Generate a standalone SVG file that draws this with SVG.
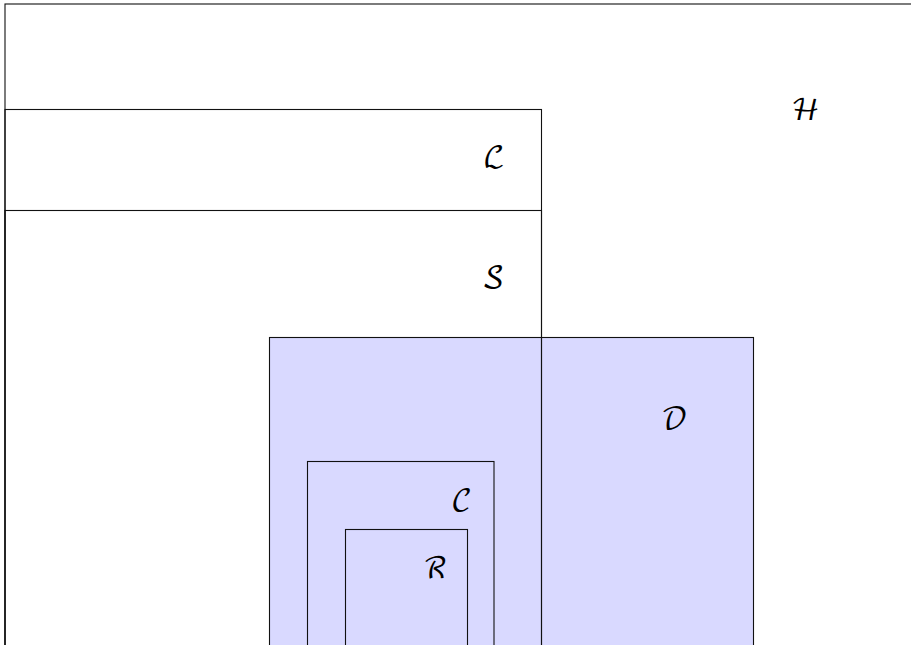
<svg xmlns="http://www.w3.org/2000/svg" width="911" height="645" viewBox="0 0 911 645">
  <style>
    .box { fill: none; stroke: #111; stroke-width: 1.1; }
    .shaded { fill: #d9d9ff; stroke: #111; stroke-width: 1.1; }
    .lbl { font-family: "DejaVu Math TeX Gyre", "DejaVu Serif", "DejaVu Sans", serif; font-size: 29px; fill: #000; }
  </style>
  <rect x="0" y="0" width="911" height="645" fill="#ffffff"/>
  <!-- shaded region drawn first so the outlines of the other sets stay visible -->
  <g id="D">
    <rect class="shaded" x="269.5" y="337.5" width="484" height="340"/>
    <text class="lbl" x="661" y="429">𝒟</text>
  </g>
  <g id="H">
    <rect class="box" x="5" y="4" width="940" height="700"/>
    <text class="lbl" x="791" y="120">ℋ</text>
  </g>
  <g id="L">
    <rect class="box" x="5" y="109.5" width="536.5" height="600"/>
    <text class="lbl" x="483" y="167">ℒ</text>
  </g>
  <g id="S">
    <rect class="box" x="5" y="210.5" width="536.5" height="500"/>
    <text class="lbl" x="482" y="287">𝒮</text>
  </g>
  <g id="C">
    <rect class="box" x="307.5" y="461.5" width="186.5" height="250"/>
    <text class="lbl" x="451" y="510">𝒞</text>
  </g>
  <g id="R">
    <rect class="box" x="345.5" y="529.5" width="122" height="200"/>
    <text class="lbl" x="423" y="578">ℛ</text>
  </g>
  <g id="connectors"/>
</svg>
